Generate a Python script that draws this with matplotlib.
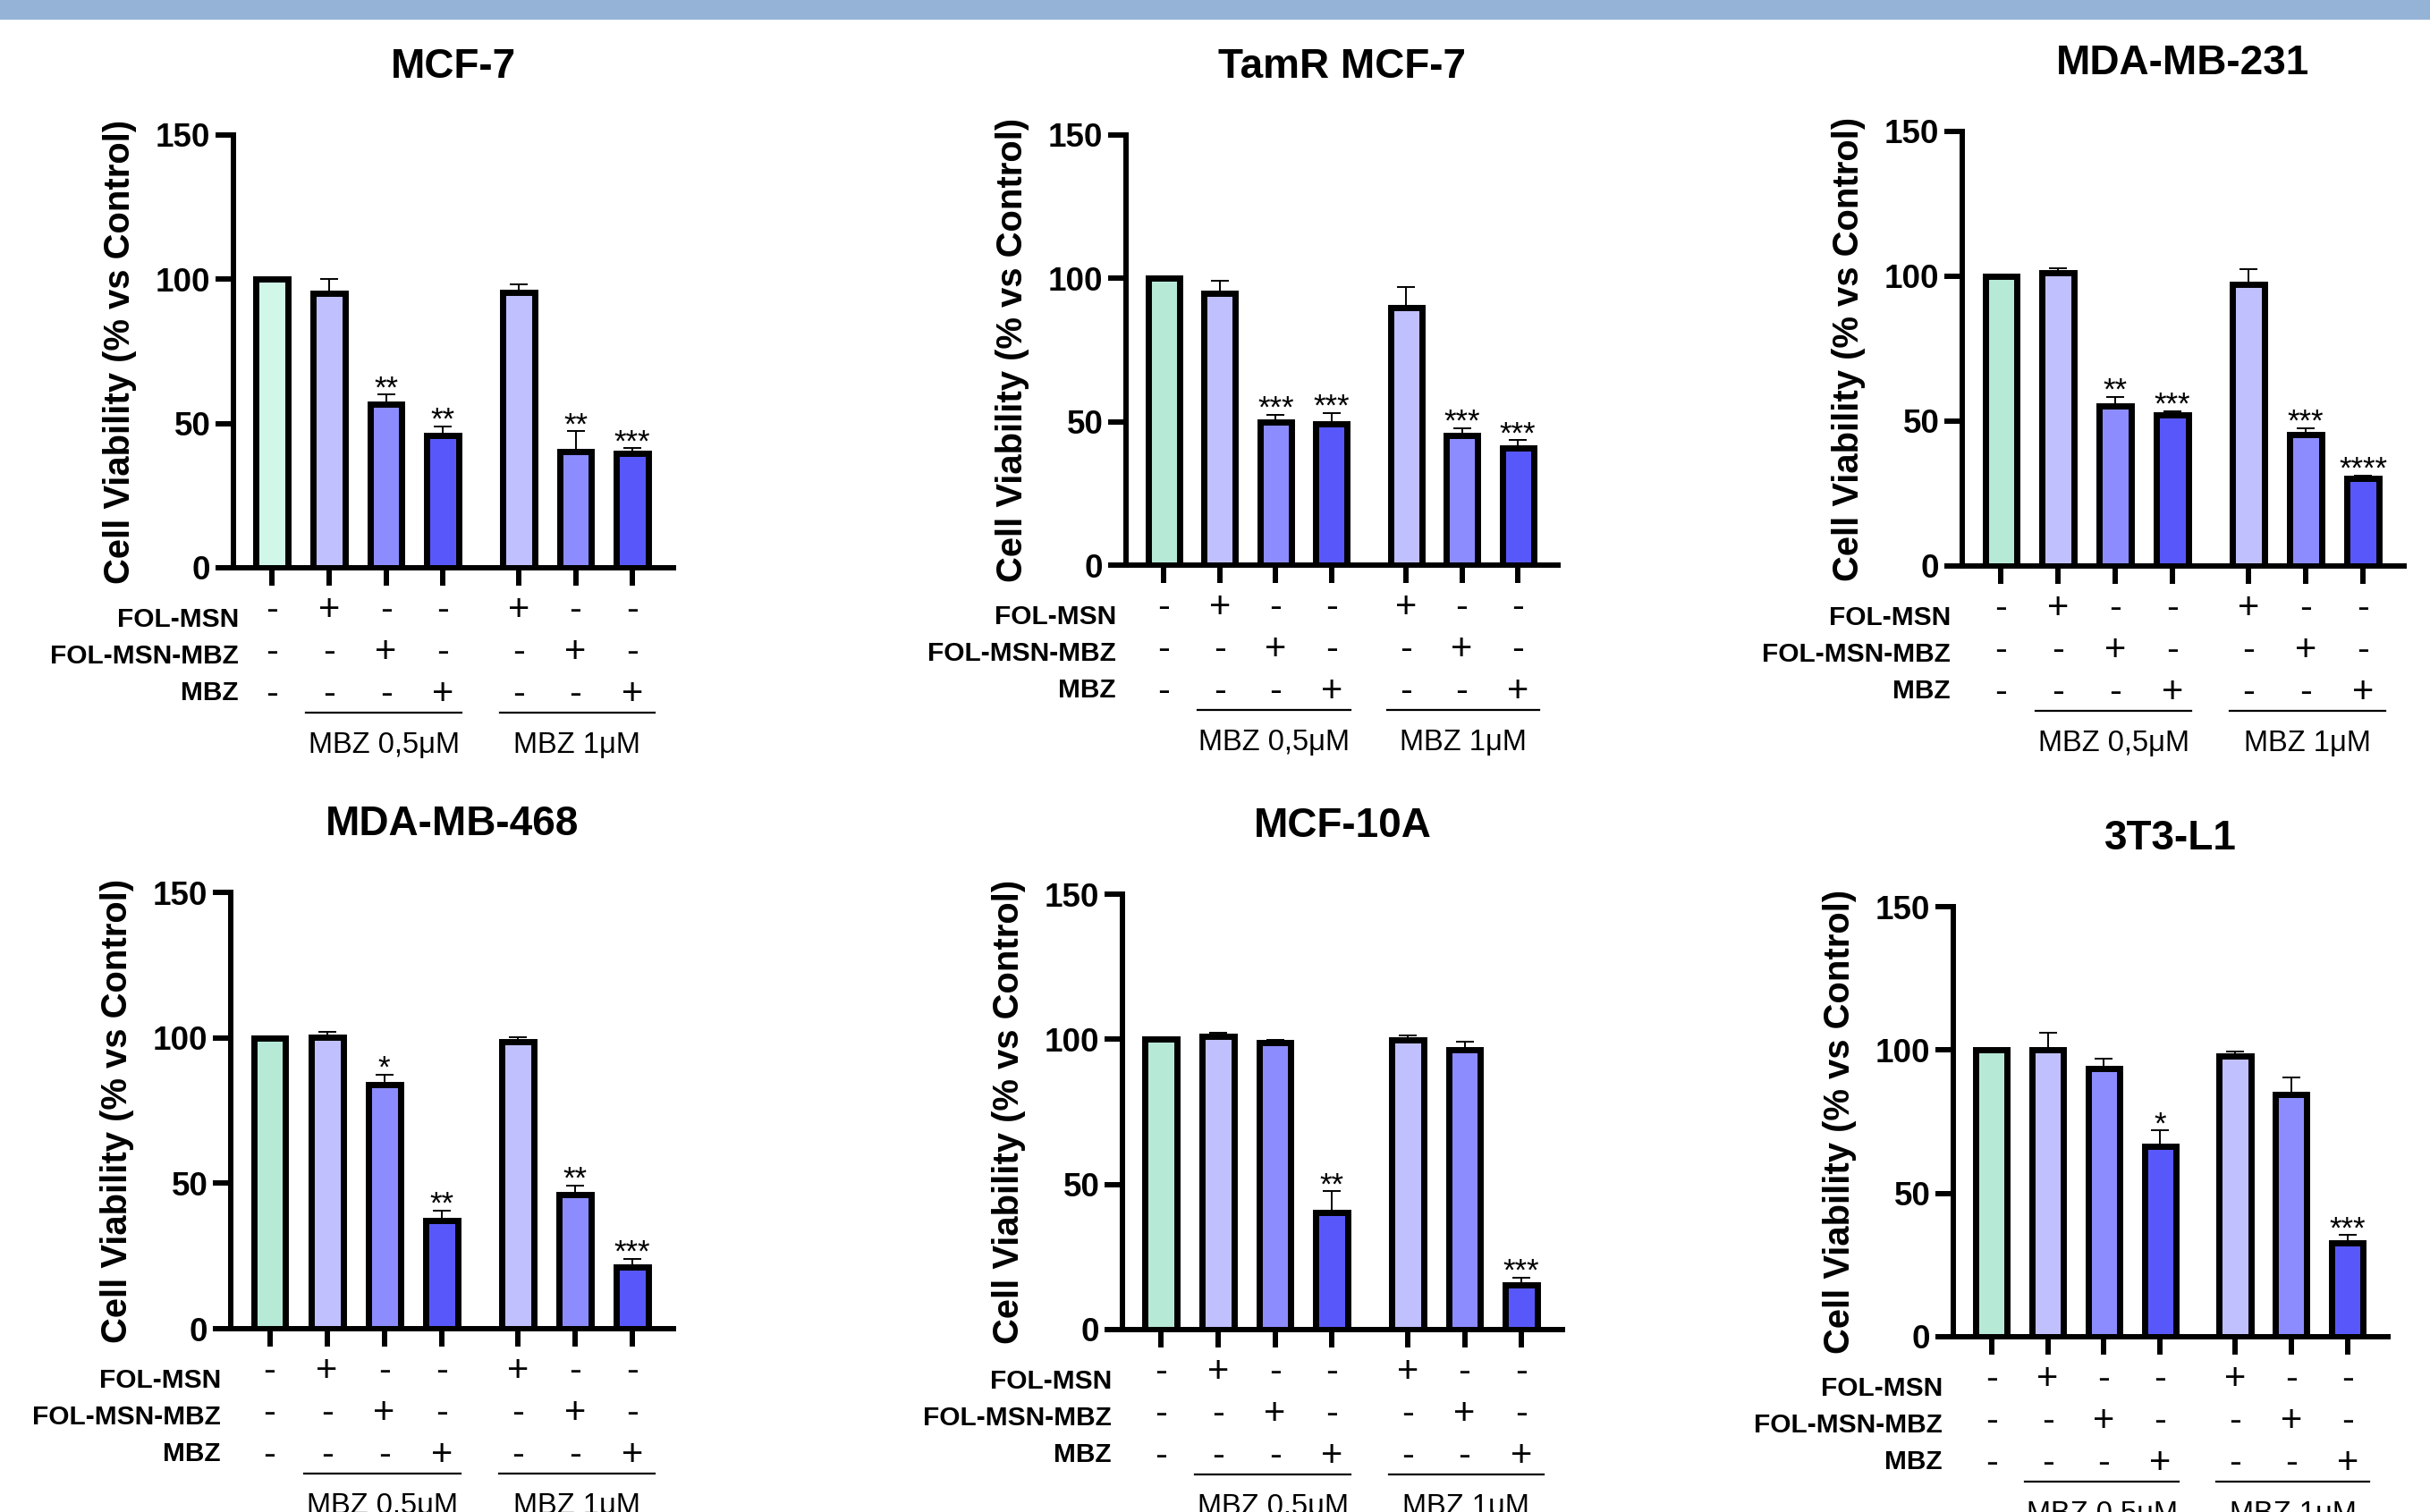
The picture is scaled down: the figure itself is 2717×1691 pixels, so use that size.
import matplotlib
matplotlib.use("Agg")
import matplotlib.pyplot as plt
import matplotlib.transforms as mtransforms
from matplotlib.patches import Rectangle
import numpy as np

plt.rcParams["font.family"] = ["Liberation Sans", "DejaVu Sans"]

# ---- data ----
CELL_LINES = ["MCF-7", "TamR MCF-7", "MDA-MB-231", "MDA-MB-468", "MCF-10A", "3T3-L1"]

MCF7_MEAN = [100, 95.2, 56.8, 45.8, 95.3, 40.4, 39.6]
MCF7_ERR = [0, 5.0, 3.2, 3.3, 2.9, 6.9, 1.8]
MCF7_STARS = ["", "", "**", "**", "", "**", "***"]

TAMR_MEAN = [100, 94.8, 50.0, 49.3, 89.8, 45.1, 40.7]
TAMR_ERR = [0, 4.4, 2.5, 3.7, 7.1, 2.7, 2.9]
TAMR_STARS = ["", "", "***", "***", "", "***", "***"]

MDA231_MEAN = [100, 101.3, 55.4, 52.1, 97.1, 45.4, 30.1]
MDA231_ERR = [0, 1.6, 2.9, 1.3, 5.4, 2.1, 1.2]
MDA231_STARS = ["", "", "**", "***", "", "***", "****"]

MDA468_MEAN = [100, 100.3, 84.0, 37.2, 98.7, 46.0, 21.3]
MDA468_ERR = [0, 1.7, 3.4, 3.5, 1.6, 3.3, 2.8]
MDA468_STARS = ["", "", "*", "**", "", "**", "***"]

MCF10A_MEAN = [100, 101.0, 99.0, 40.2, 99.7, 96.4, 15.4]
MCF10A_ERR = [0, 1.2, 0.9, 7.4, 1.6, 2.9, 2.5]
MCF10A_STARS = ["", "", "", "**", "", "", "***"]

T3L1_MEAN = [100, 100.0, 93.6, 66.3, 97.8, 84.4, 32.6]
T3L1_ERR = [0, 6.1, 3.4, 5.7, 1.8, 5.9, 2.8]
T3L1_STARS = ["", "", "", "*", "", "", "***"]

ROW_LABELS = ["FOL-MSN", "FOL-MSN-MBZ", "MBZ"]
FOL_MSN = ["-", "+", "-", "-", "+", "-", "-"]
FOL_MSN_MBZ = ["-", "-", "+", "-", "-", "+", "-"]
MBZ = ["-", "-", "-", "+", "-", "-", "+"]
GROUP_LABELS = ["MBZ 0,5\u03bcM", "MBZ 1\u03bcM"]

MEANS = [MCF7_MEAN, TAMR_MEAN, MDA231_MEAN, MDA468_MEAN, MCF10A_MEAN, T3L1_MEAN]
ERRS = [MCF7_ERR, TAMR_ERR, MDA231_ERR, MDA468_ERR, MCF10A_ERR, T3L1_ERR]
STARS = [MCF7_STARS, TAMR_STARS, MDA231_STARS, MDA468_STARS, MCF10A_STARS, T3L1_STARS]

# ---- layout / style ----
W, H = 2717, 1691
X = np.array([0, 1, 2, 3, 4.33, 5.33, 6.33])
GROUP_SPANS = [(0.6, 3.33), (4.0, 6.72)]
# axes boxes in pixels: left, right, top(150), bottom(0)
BOXES = [
    (261, 753, 151, 635),
    (1259, 1742, 151, 632),
    (2194, 2688, 147, 633),
    (258, 753, 998, 1486),
    (1255, 1747, 1000, 1487),
    (2184, 2670, 1014, 1495),
]
LABEL_SHIFT = [6, -11, -13, -11, -12, -12]
CONTROL_COLORS = ["#D0F7E8", "#B6E9D6", "#B6E9D6", "#B6E9D6", "#B6E9D6", "#B6E9D6"]
TREAT_COLORS = ["#C0C0FF", "#8C8CFF", "#5858FA", "#C0C0FF", "#8C8CFF", "#5858FA"]

fig = plt.figure(figsize=(W / 100, H / 100), dpi=100)
fig.patches.append(Rectangle((0, 1 - 22 / H), 1, 22 / H, transform=fig.transFigure,
                             facecolor="#95B3D7", edgecolor="none"))


def off(trans, dx=0, dy=0):
    return mtransforms.offset_copy(trans, fig=fig, x=dx, y=dy, units="dots")


for i, (left, right, top, bottom) in enumerate(BOXES):
    ax = fig.add_axes([left / W, 1 - bottom / H, (right - left) / W, (bottom - top) / H])
    mean = np.array(MEANS[i])
    err = np.array(ERRS[i])
    colors = [CONTROL_COLORS[i]] + TREAT_COLORS

    has_err = err > 0
    ax.errorbar(X[has_err], mean[has_err], yerr=[np.zeros(has_err.sum()), err[has_err]],
                fmt="none", ecolor="black", elinewidth=1.4, capsize=7.5, capthick=1.4, zorder=1)
    ax.bar(X, mean, width=0.56, color=colors, edgecolor="black", linewidth=5, zorder=2)

    for xi, m, e, s in zip(X, mean, err, STARS[i]):
        if s:
            ax.text(xi, m + e, s, ha="center", va="baseline", fontsize=25,
                    transform=off(ax.transData, 0, -3))

    ax.set_xlim(-0.68, 7.05)
    ax.set_ylim(0, 150)
    ax.set_yticks([0, 50, 100, 150])
    ax.set_xticks(X)
    ax.set_xticklabels([])
    for sp in ("top", "right"):
        ax.spines[sp].set_visible(False)
    for sp in ("left", "bottom"):
        ax.spines[sp].set_linewidth(4.3)
    ax.tick_params(axis="both", direction="out", length=14.5, width=4.3)
    ax.tick_params(axis="y", labelsize=26.5, pad=4)
    for lab in ax.get_yticklabels():
        lab.set_fontweight("bold")

    axw = right - left
    ax.text(-127 / axw, 0.5, "Cell Viability (% vs Control)", rotation=90,
            ha="center", va="center", fontsize=28.8, fontweight="bold", transform=ax.transAxes)

    ax.text(0.5, 1, CELL_LINES[i], ha="center", va="baseline", fontsize=33,
            fontweight="bold", transform=off(ax.transAxes, 0, 64))

    # treatment table below the axis
    xa = mtransforms.blended_transform_factory(ax.transData, ax.transAxes)
    for r, (label, signs) in enumerate(zip(ROW_LABELS, [FOL_MSN, FOL_MSN_MBZ, MBZ])):
        ax.text(0, 0, label, ha="right", va="baseline", fontsize=21.5, fontweight="bold",
                transform=off(ax.transAxes, LABEL_SHIFT[i], -(66 + 41 * r)))
        for xi, s in zip(X, signs):
            ax.text(xi, 0, s, ha="center", va="baseline", fontsize=30,
                    transform=off(xa, 0, -(59 + 47 * r)))

    for (x0, x1), g in zip(GROUP_SPANS, GROUP_LABELS):
        ax.plot([x0, x1], [0, 0], color="black", lw=1.6, clip_on=False,
                transform=off(xa, 0, -162))
        ax.text((x0 + x1) / 2, 0, g, ha="center", va="baseline", fontsize=23.5,
                transform=off(xa, 0, -207))

    ax.set_xlim(-0.68, 7.05)
    ax.set_ylim(0, 150)

fig.savefig("out.png", dpi=100)
